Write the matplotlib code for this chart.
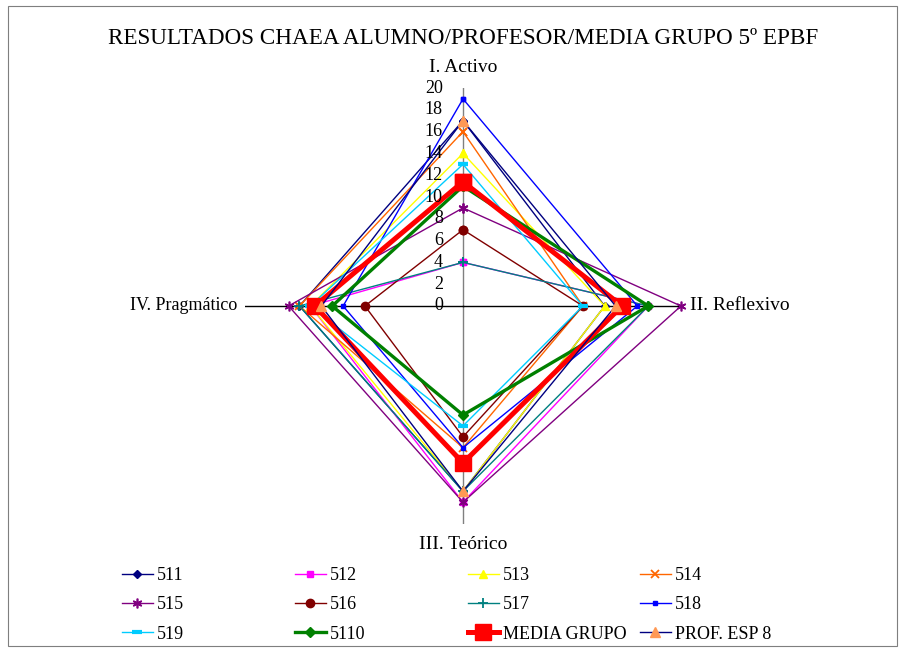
import numpy as np
import matplotlib
matplotlib.use("Agg")
import matplotlib.pyplot as plt
from matplotlib.patches import Rectangle
from matplotlib.transforms import offset_copy

# ---------- Data ----------
categories = ["I. Activo", "II. Reflexivo", "III. Teórico", "IV. Pragmático"]
s511 = [17, 13, 17, 15]
s512 = [4, 17, 18, 14]
s513 = [14, 13, 17, 14]
s514 = [16, 11, 13, 15]
s515 = [9, 20, 18, 16]
s516 = [7, 11, 12, 9]
s517 = [4, 17, 17, 15]
s518 = [19, 16, 13, 11]
s519 = [13, 11, 11, 14]
s5110 = [11, 17, 10, 12]
media = [11.4, 14.6, 14.4, 13.6]
prof = [17, 14, 17, 13]
ticks = list(range(0, 21, 2))

series = [
    ("511", s511, dict(color="#000080", marker="D", ms=4, lw=1)),
    ("512", s512, dict(color="#FF00FF", marker="s", ms=5, lw=1)),
    ("513", s513, dict(color="#FFFF00", marker="^", ms=6, lw=1)),
    ("514", s514, dict(color="#FF6600", marker="x", ms=6, mew=1.3, lw=1)),
    ("515", s515, dict(color="#800080", marker=(6, 2, 0), ms=7, mew=1.2, lw=1)),
    ("516", s516, dict(color="#800000", marker="o", ms=6, lw=1)),
    ("517", s517, dict(color="#008080", marker="+", ms=7, mew=1.3, lw=1)),
    ("518", s518, dict(color="#0000FF", marker="s", ms=3, lw=1)),
    ("519", s519, dict(color="#00CCFF", marker="_", ms=7, mew=3, lw=1)),
    ("5110", s5110, dict(color="#008000", marker="D", ms=5, lw=2.4)),
    ("MEDIA GRUPO", media, dict(color="#FF0000", marker="s", ms=11, lw=3.6)),
    ("PROF. ESP 8", prof, dict(color="#000080", marker="^", ms=7, lw=1,
                               mfc="#FF9955", mec="#FF9955")),
]

plt.rcParams["font.family"] = ["Liberation Serif", "DejaVu Serif"]

W, H = 904, 652
fig = plt.figure(figsize=(W / 100, H / 100), dpi=100)
cx, cy, R = 463, 306, 218
ax = fig.add_axes([(cx - R) / W, (H - cy - R) / H, 2 * R / W, 2 * R / H],
                  projection="polar")
ax.set_theta_offset(np.pi / 2)
ax.set_theta_direction(-1)
ax.set_ylim(0, 20)
ax.set_xticks([])
ax.set_yticks([])
ax.grid(False)
ax.spines["polar"].set_visible(False)
ax.patch.set_alpha(0)

theta = np.arange(len(categories)) * np.pi / 2

# spokes
ax.plot([theta[0], theta[0]], [0, 20], color="#808080", lw=1, zorder=1)
ax.plot([theta[2], theta[2]], [0, 20], color="#808080", lw=1, zorder=1)
ax.plot([theta[1], theta[1]], [0, 20], color="black", lw=1, zorder=1)
ax.plot([theta[3], theta[3]], [0, 20], color="black", lw=1, zorder=1)

handles = []
for name, vals, style in series:
    t = np.append(theta, theta[0])
    v = np.append(vals, vals[0])
    h, = ax.plot(t, v, label=name, zorder=2, clip_on=False, **style)
    handles.append(h)

# value tick labels along the top spoke
tr = offset_copy(ax.transData, fig=fig, x=-14.5, y=0, units="points")
for tk in ticks:
    ax.text(0, tk, str(tk), transform=tr, ha="right", va="center", fontsize=13)

# category labels
ax.text(theta[0], 21.9, categories[0], ha="center", va="center", fontsize=14)
ax.text(theta[1], 20.8, categories[1], ha="left", va="center", fontsize=14)
ax.text(theta[2], 21.9, categories[2], ha="center", va="center", fontsize=14)
ax.text(theta[3], 20.7, categories[3], ha="right", va="center", fontsize=13)

fig.text(cx / W, 1 - 38 / H, "RESULTADOS CHAEA ALUMNO/PROFESOR/MEDIA GRUPO 5º EPBF",
         ha="center", va="center", fontsize=16.7)

# legend: 4 columns at fixed positions, 3 rows
col_x = [122, 295, 468, 640]
for c in range(4):
    hs = [handles[r * 4 + c] for r in range(3)]
    fig.legend(handles=hs, labels=[h.get_label() for h in hs],
               loc="upper left", bbox_to_anchor=(col_x[c] / W, 1 - 567 / H),
               frameon=False, fontsize=13, handlelength=1.7, handletextpad=0.25,
               labelspacing=0.68, borderaxespad=0, borderpad=0)

fig.patches.append(Rectangle((8 / W, 6 / H), 889 / W, 640 / H, transform=fig.transFigure,
                             fill=False, ec="#7f7f7f", lw=0.8))

fig.savefig("out.png", dpi=100)
